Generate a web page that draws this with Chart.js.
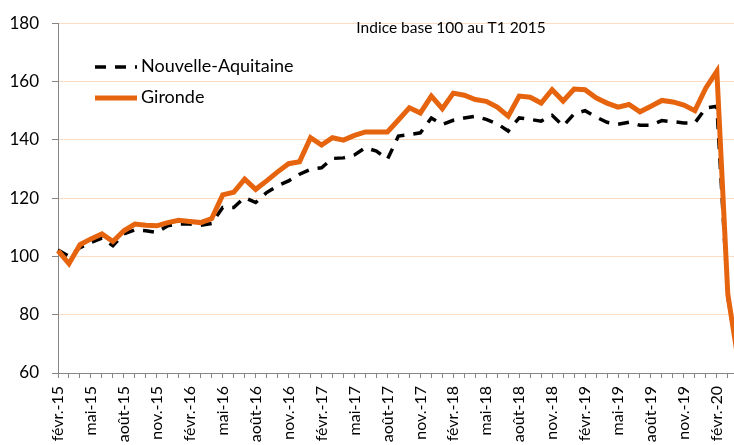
<!DOCTYPE html>
<html>
<head>
<meta charset="utf-8">
<script src="https://cdn.jsdelivr.net/npm/chart.js@4/dist/chart.umd.min.js"></script>
<style>
  html, body { margin: 0; padding: 0; background: #fff; overflow: hidden; }
  #wrap { width: 766px; height: 445px; }
</style>
</head>
<body>
<div id="wrap"><canvas id="myChart"></canvas></div>
<script>
const months = [
  'févr.-15', 'mars-15', 'avr.-15', 'mai-15', 'juin-15', 'juil.-15', 'août-15', 'sept.-15', 'oct.-15', 'nov.-15', 'déc.-15',
  'janv.-16', 'févr.-16', 'mars-16', 'avr.-16', 'mai-16', 'juin-16', 'juil.-16', 'août-16', 'sept.-16', 'oct.-16', 'nov.-16', 'déc.-16',
  'janv.-17', 'févr.-17', 'mars-17', 'avr.-17', 'mai-17', 'juin-17', 'juil.-17', 'août-17', 'sept.-17', 'oct.-17', 'nov.-17', 'déc.-17',
  'janv.-18', 'févr.-18', 'mars-18', 'avr.-18', 'mai-18', 'juin-18', 'juil.-18', 'août-18', 'sept.-18', 'oct.-18', 'nov.-18', 'déc.-18',
  'janv.-19', 'févr.-19', 'mars-19', 'avr.-19', 'mai-19', 'juin-19', 'juil.-19', 'août-19', 'sept.-19', 'oct.-19', 'nov.-19', 'déc.-19',
  'janv.-20', 'févr.-20', 'mars-20', 'avr.-20'
];

const nouvelleAquitaine = [
  102.2, 100, 103, 104.8, 106.3, 103.7, 107.7, 109.1, 108.8, 108.2,
  110.5, 111.1, 111.1, 110.7, 111.3, 116.8, 116.8, 120.2, 118.5, 121.9,
  124.2, 125.9, 128.2, 129.9, 130.4, 133.6, 133.8, 134.8, 137.3, 136.1,
  133.3, 141.3, 141.8, 142.4, 147.5, 145.3, 146.7, 147.5, 148.1, 147,
  145.5, 143, 147.5, 147, 146.4, 148.4, 144.7, 148.9, 150, 147.8,
  146, 145.3, 146, 145, 145, 146.6, 146.2, 145.8, 145.8, 150.9,
  151.5, 86, 64
];

const gironde = [
  102, 97.5, 104, 106, 107.7, 105.1, 108.8, 111.1, 110.7, 110.5,
  111.6, 112.4, 112, 111.6, 113, 121.1, 122, 126.5, 123, 125.9,
  129, 131.8, 132.5, 140.7, 138.2, 140.7, 139.9, 141.5, 142.7, 142.7,
  142.7, 146.8, 151, 149.2, 155, 150.7, 156, 155.3, 153.8, 153.2,
  151.2, 148.1, 155, 154.6, 152.6, 157.2, 153.3, 157.4, 157.2, 154.4,
  152.6, 151.2, 152.1, 149.6, 151.5, 153.5, 153, 151.9, 150, 157.8,
  163.5, 87, 63
];

const yTicks = [60, 80, 100, 120, 140, 160, 180];
const subtitle = 'Indice base 100 au T1 2015';

const axisGrey = '#868686';
const gridPeach = '#FCDCC3';
const orange = '#E6640E';
const font = 'Lato, "Open Sans", sans-serif';

// legend drawn inside the plot, top-left, like the original
const innerLegend = {
  id: 'innerLegend',
  afterDatasetsDraw(chart) {
    const ctx = chart.ctx;
    const items = chart.data.datasets;
    ctx.save();
    items.forEach((ds, i) => {
      const y = 67 + i * 31;
      ctx.beginPath();
      ctx.setLineDash(ds.borderDash || []);
      ctx.lineWidth = ds.borderWidth;
      ctx.strokeStyle = ds.borderColor;
      ctx.lineCap = 'butt';
      ctx.moveTo(95, y);
      ctx.lineTo(137, y);
      ctx.stroke();
      ctx.setLineDash([]);
      ctx.fillStyle = '#000';
      ctx.font = '18px ' + font;
      ctx.textBaseline = 'middle';
      ctx.textAlign = 'left';
      ctx.fillText(ds.label, 141, y - 1);
    });
    ctx.font = '15.5px ' + font;
    ctx.textAlign = 'center';
    ctx.textBaseline = 'middle';
    ctx.fillStyle = '#000';
    ctx.fillText(subtitle, 451, 28);
    ctx.restore();
  }
};

const ctx = document.getElementById('myChart').getContext('2d');

const myChart = new Chart(ctx, {
  type: 'line',
  data: {
    labels: months,
    datasets: [{
      label: 'Nouvelle-Aquitaine',
      data: nouvelleAquitaine,
      borderColor: '#000',
      borderWidth: 3.5,
      borderDash: [11, 9],
      pointRadius: 0,
      tension: 0,
      order: 1
    }, {
      label: 'Gironde',
      data: gironde,
      borderColor: orange,
      borderWidth: 5,
      pointRadius: 0,
      tension: 0,
      order: 0
    }]
  },
  options: {
    responsive: true,
    maintainAspectRatio: false,
    animation: false,
    layout: {
      padding: { top: 22, right: 0, bottom: 0, left: 0 }
    },
    scales: {
      x: {
        offset: false,
        border: { color: axisGrey, width: 1 },
        grid: { drawOnChartArea: false, color: axisGrey, tickLength: 5 },
        ticks: {
          autoSkip: false,
          maxRotation: 90,
          minRotation: 90,
          padding: 8,
          color: '#000',
          font: { family: font, size: 16 },
          callback: (v, i) => (i % 3 === 0 ? months[i] : '')
        },
        afterFit: (s) => { s.height = 72; }
      },
      y: {
        min: 60,
        max: 180,
        border: { color: axisGrey, width: 1 },
        grid: { color: gridPeach, tickColor: axisGrey, tickLength: 6 },
        afterBuildTicks: (s) => { s.ticks = yTicks.map((v) => ({ value: v })); },
        ticks: {
          padding: 13,
          color: '#000',
          font: { family: font, size: 17 }
        },
        afterFit: (s) => { s.width = 58; }
      }
    },
    plugins: {
      legend: { display: false },
      tooltip: { enabled: false }
    }
  },
  plugins: [innerLegend]
});
</script>
</body>
</html>
